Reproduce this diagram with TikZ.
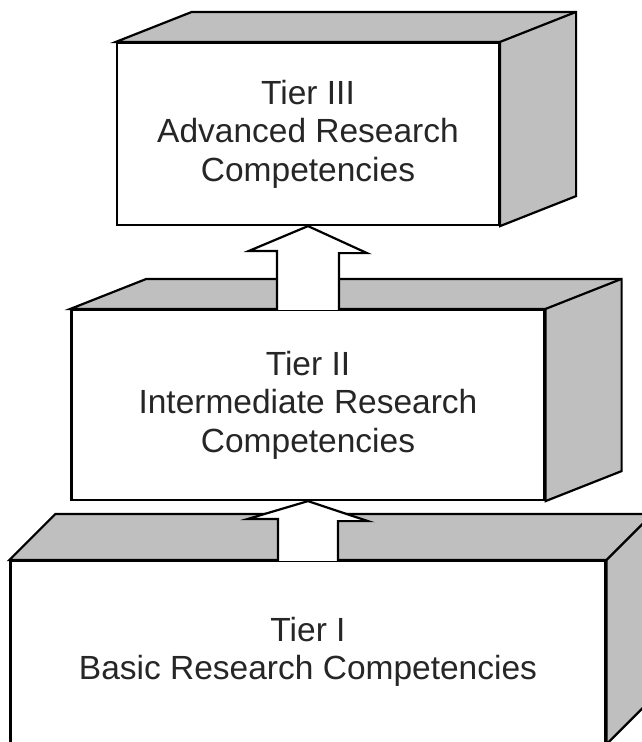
\documentclass[tikz,border=0pt]{standalone}
\usepackage{fontspec}
\setmainfont{Liberation Sans}

\begin{document}
\begin{tikzpicture}[x=1pt,y=-1pt,line width=2.2pt,
                    front/.style={draw,fill=white,align=center,inner sep=0pt,
                                  font=\fontsize{33.5}{38.5}\selectfont,text=black!85},
                    side/.style={draw,fill=black!25},
                    blockarrow/.style={draw,fill=white}]

                    \clip (0,0) rectangle (642,742);

                    % Tier III
                    \node[front,minimum width=382pt,minimum height=182pt] (tier3) at (308,134)
                        {Tier III\\Advanced Research\\Competencies};
                    \path[side] (tier3.north west) -- ++(76,-30) -- ([shift={(76pt,30pt)}]tier3.north east)
                        -- ([shift={(76pt,30pt)}]tier3.south east) -- (tier3.south east) -- (tier3.north east) -- cycle;
                    \draw (tier3.north east) -- ++(76,-30);

                    % Tier II
                    \node[front,minimum width=473pt,minimum height=190pt] (tier2) at (308,405)
                        {Tier II\\Intermediate Research\\Competencies};
                    \path[side] (tier2.north west) -- ++(76,-30) -- ([shift={(76pt,30pt)}]tier2.north east)
                        -- ([shift={(76pt,30pt)}]tier2.south east) -- (tier2.south east) -- (tier2.north east) -- cycle;
                    \draw (tier2.north east) -- ++(76,-30);

                    % Tier I
                    \node[front,minimum width=595pt,minimum height=182pt] (tier1) at (308,652)
                        {Tier I\\Basic Research Competencies};
                    \path[side] (tier1.north west) -- ++(46,-46) -- ([shift={(46pt,46pt)}]tier1.north east)
                        -- ([shift={(46pt,46pt)}]tier1.south east) -- (tier1.south east) -- (tier1.north east) -- cycle;
                    \draw (tier1.north east) -- ++(46,-46);

                    % arrows
                    \path[blockarrow] ([xshift=-31pt,yshift=-1pt]tier2.north) -- ++(0,-59) -- ++(-28,0) -- (tier3.south)
                        -- ++(59,27) -- ++(-28,0) -- ([xshift=31pt,yshift=-1pt]tier2.north);
                    \path[blockarrow] ([xshift=-30pt,yshift=-1pt]tier1.north) -- ++(0,-42) -- ++(-30,0) -- (tier2.south)
                        -- ++(60,20) -- ++(-30,0) -- ([xshift=30pt,yshift=-1pt]tier1.north);
                \end{tikzpicture}
\end{document}
